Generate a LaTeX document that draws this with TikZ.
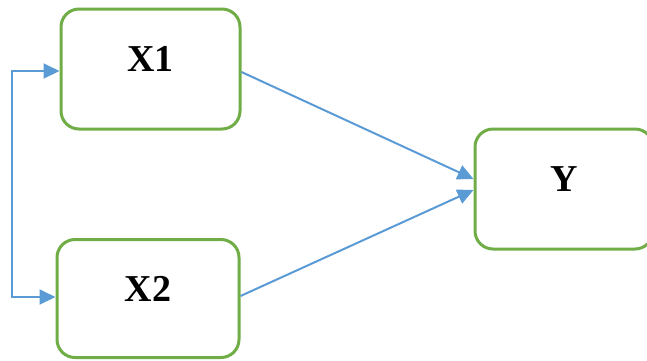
\documentclass[tikz,border=0pt]{standalone}
\usepackage{fontspec}
\setmainfont{Liberation Serif}
\usetikzlibrary{arrows.meta}
\definecolor{boxgreen}{HTML}{70AD47}
\definecolor{linkblue}{HTML}{5B9BD5}
\tikzset{
  varbox/.style={draw=boxgreen, line width=3pt, rounded corners=18pt,
    fill=white, inner sep=0pt},
  varlabel/.style={font=\fontsize{38}{42}\selectfont\bfseries, yshift=10pt},
  tip/.tip={Triangle[length=16pt,width=15pt]},
  link/.style={draw=linkblue, line width=2pt, -tip},
}
\begin{document}
\begin{tikzpicture}[x=1pt,y=-1pt]
  \useasboundingbox (0,0) rectangle (647,360);
  % variable boxes
  \node[varbox, minimum width=179pt, minimum height=120pt,
        label={[varlabel]center:X1}] (X1) at (150.5,69) {};
  \node[varbox, minimum width=182pt, minimum height=118pt,
        label={[varlabel]center:X2}] (X2) at (148,298.5) {};
  \node[varbox, minimum width=178pt, minimum height=120pt,
        label={[varlabel]center:Y}] (Y) at (564,189) {};
  % bracket feeding both predictors
  \coordinate (L1) at (12,71);
  \coordinate (L2) at (12,297);
  \draw[link, tip-tip]
    (X1.west |- L1) -- (L1) -- (L2) -- (X2.west |- L2);
  % paths to the outcome
  \draw[link] ([yshift=-3pt]X1.east) -- ([yshift=10pt]Y.west);
  \draw[link] ([yshift=2.5pt]X2.east) -- ([yshift=-1pt]Y.west);
\end{tikzpicture}
\end{document}
